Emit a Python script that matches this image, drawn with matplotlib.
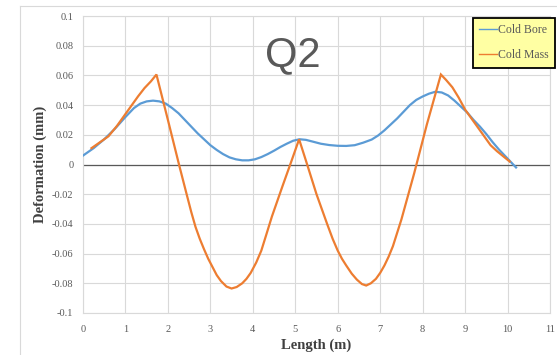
import matplotlib
matplotlib.use("Agg")
import matplotlib.pyplot as plt
from matplotlib.lines import Line2D

# ---- data ----
bore_x = [0, 0.25, 0.5, 0.75, 1.0, 1.2, 1.35, 1.5, 1.65, 1.8, 1.95, 2.1, 2.25, 2.4, 2.55,
          2.7, 2.85, 3.0, 3.15, 3.3, 3.45, 3.6, 3.75, 3.9, 4.05, 4.2, 4.35, 4.5, 4.65,
          4.8, 4.95, 5.1, 5.25, 5.4, 5.6, 5.8, 6.0, 6.2, 6.4, 6.6, 6.8, 6.95, 7.1, 7.25,
          7.4, 7.55, 7.7, 7.85, 8.0, 8.15, 8.3, 8.45, 8.6, 8.75, 8.9, 9.05, 9.2, 9.35,
          9.5, 9.65, 9.8, 9.95, 10.1, 10.2]
bore_y = [0.006, 0.011, 0.017, 0.024, 0.032, 0.038, 0.041, 0.0425, 0.043, 0.0425, 0.041,
          0.038, 0.0345, 0.030, 0.0255, 0.021, 0.017, 0.013, 0.0098, 0.007, 0.0048,
          0.0035, 0.0028, 0.0028, 0.0035, 0.005, 0.007, 0.0093, 0.0118, 0.014, 0.016,
          0.017, 0.0166, 0.0155, 0.014, 0.0131, 0.0126, 0.0125, 0.013, 0.0147, 0.0168,
          0.0195, 0.023, 0.027, 0.031, 0.0355, 0.040, 0.0435, 0.0458, 0.0477, 0.049,
          0.0485, 0.0465, 0.043, 0.039, 0.035, 0.030, 0.0255, 0.0205, 0.015, 0.010,
          0.0055, 0.001, -0.002]

mass_x = [0.2, 0.4, 0.6, 0.8, 1.0, 1.15, 1.3, 1.45, 1.6, 1.73, 2.0, 2.27, 2.45, 2.55,
          2.65, 2.75, 2.85, 2.95, 3.05, 3.15, 3.25, 3.38, 3.5, 3.62, 3.75, 3.85, 3.95,
          4.08, 4.2, 4.32, 4.45, 4.7, 4.9, 5.09, 5.28, 5.5, 5.75, 5.88, 6.0, 6.1, 6.2,
          6.33, 6.45, 6.57, 6.67, 6.78, 6.9, 7.0, 7.1, 7.2, 7.3, 7.4, 7.5, 7.8, 8.1,
          8.43, 8.55, 8.7, 8.85, 9.0, 9.15, 9.3, 9.45, 9.6, 9.75, 9.9, 10.05]
mass_y = [0.011, 0.015, 0.019, 0.026, 0.034, 0.040, 0.046, 0.0515, 0.056, 0.0606, 0.030,
          -0.001, -0.021, -0.032, -0.042, -0.050, -0.057, -0.0635, -0.069, -0.0745,
          -0.0785, -0.0822, -0.0835, -0.0825, -0.080, -0.077, -0.073, -0.066, -0.058,
          -0.047, -0.035, -0.0145, 0.0015, 0.017, 0.0, -0.020, -0.040, -0.050, -0.058,
          -0.0635, -0.068, -0.0735, -0.0775, -0.0805, -0.0815, -0.080, -0.077, -0.073,
          -0.068, -0.062, -0.055, -0.046, -0.037, -0.006, 0.027, 0.0606, 0.057, 0.052,
          0.045, 0.037, 0.031, 0.025, 0.019, 0.013, 0.009, 0.0055, 0.002]

x_ticks = list(range(0, 12))
x_tick_labels = [str(v) for v in x_ticks]
y_ticks = [0.1, 0.08, 0.06, 0.04, 0.02, 0, -0.02, -0.04, -0.06, -0.08, -0.1]
y_tick_labels = ["0.1", "0.08", "0.06", "0.04", "0.02", "0", "-0.02", "-0.04",
                 "-0.06", "-0.08", "-0.1"]

series_names = ["Cold Bore", "Cold Mass"]
title_text = "Q2"
x_label = "Length (m)"
y_label = "Deformation (mm)"

# ---- figure ----
W, H = 557, 355
fig = plt.figure(figsize=(W / 100, H / 100), dpi=100)
fig.patch.set_facecolor("white")

# chart-area border (light gray)
fig.add_artist(Line2D([20 / W, 20 / W], [0, 1 - 6 / H], transform=fig.transFigure,
                      color="#D9D9D9", lw=0.8))
fig.add_artist(Line2D([20 / W, 1], [1 - 6 / H, 1 - 6 / H], transform=fig.transFigure,
                      color="#D9D9D9", lw=0.8))

left, right, top, bottom = 83, 550, 16, 313
ax = fig.add_axes([left / W, 1 - bottom / H, (right - left) / W, (bottom - top) / H])

blue = "#5B9BD5"
orange = "#ED7D31"
ax.plot(bore_x, bore_y, color=blue, lw=1.6, label=series_names[0], zorder=3,
        solid_joinstyle="round")
ax.plot(mass_x, mass_y, color=orange, lw=1.6, label=series_names[1], zorder=4,
        solid_joinstyle="miter")

ax.set_xlim(0, 11)
ax.set_ylim(-0.1, 0.1)
ax.set_xticks(x_ticks)
ax.set_xticklabels(x_tick_labels)
ax.set_yticks(y_ticks)
ax.set_yticklabels(y_tick_labels)

ax.grid(True, color="#D9D9D9", lw=0.8)
ax.set_axisbelow(True)
ax.axhline(0, color="#595959", lw=0.9, zorder=2)

for s in ax.spines.values():
    s.set_color("#D9D9D9")
    s.set_linewidth(0.8)

serif = ["Liberation Serif", "DejaVu Serif"]
ax.tick_params(axis="both", length=0, labelcolor="#595959", labelsize=7.5)
ax.tick_params(axis="y", pad=7)
ax.tick_params(axis="x", pad=9)
for lbl in ax.get_xticklabels() + ax.get_yticklabels():
    lbl.set_family(serif)

ax.set_xlabel(x_label, family=serif, fontweight="bold", fontsize=10.5,
              color="#404040", labelpad=3)
ax.set_ylabel(y_label, family=serif, fontweight="bold", fontsize=10.5,
              color="#404040", labelpad=3)

fig.text(293 / W, 1 - 55 / H, title_text, ha="center", va="center",
         fontsize=30, color="#595959", family=["Liberation Sans", "DejaVu Sans"])

leg = ax.legend(loc="upper right", bbox_to_anchor=(555 / W, 1 - 18 / H),
                bbox_transform=fig.transFigure, borderaxespad=0,
                prop={"family": serif, "size": 8.5}, frameon=True, fancybox=False,
                handlelength=1.5, handletextpad=0.1, labelspacing=1.1,
                borderpad=0.55, labelcolor="#595959")
frame = leg.get_frame()
frame.set_facecolor("#FFFFA3")
frame.set_edgecolor("black")
frame.set_linewidth(1.3)
frame.set_alpha(1)
for h in leg.get_lines():
    h.set_linewidth(1.0)

fig.savefig("out.png", dpi=100)
